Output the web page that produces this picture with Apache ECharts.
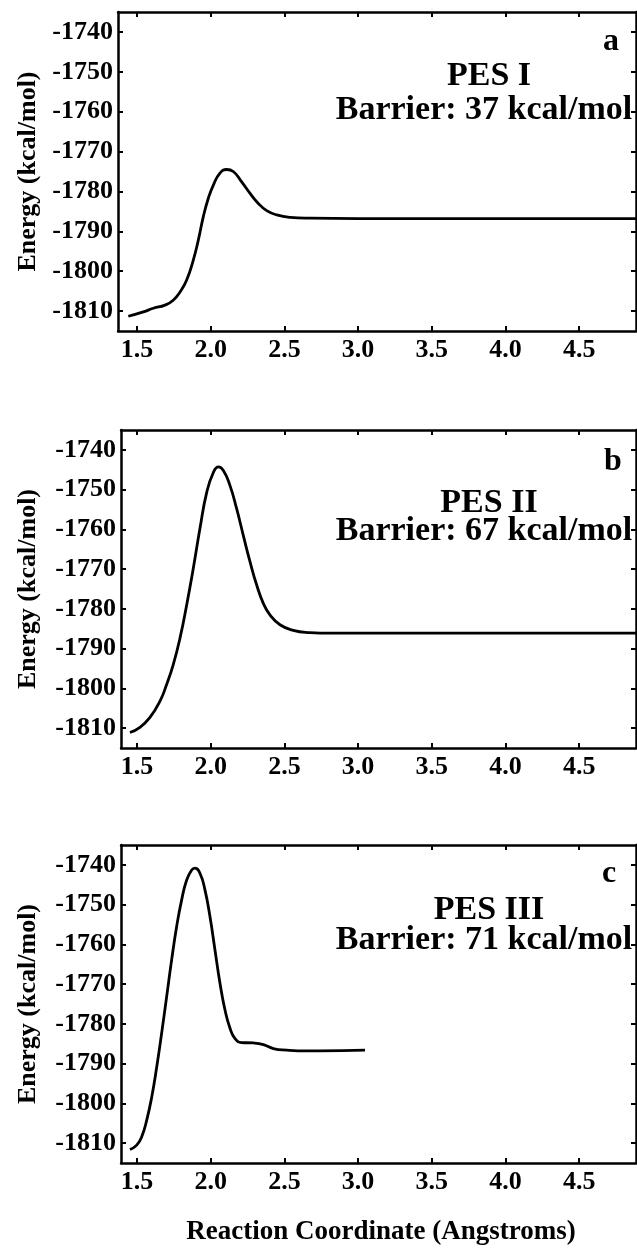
<!DOCTYPE html>
<html>
<head>
<meta charset="utf-8">
<script src="https://cdn.jsdelivr.net/npm/echarts@6/dist/echarts.min.js"></script>
<style>
html,body{margin:0;padding:0;background:#fff;}
#chart{width:637px;height:1251px;}
</style>
</head>
<body>
<div id="chart"></div>
<script>
// ---- data ----
const xTickValues = [1.5, 2.0, 2.5, 3.0, 3.5, 4.0, 4.5];
const yTickValues = [-1810, -1800, -1790, -1780, -1770, -1760, -1750, -1740];
const panelLetters = ['a', 'b', 'c'];
const panelNames = ['PES I', 'PES II', 'PES III'];
const barrierTexts = ['Barrier: 37 kcal/mol', 'Barrier: 67 kcal/mol', 'Barrier: 71 kcal/mol'];
const yAxisTitle = 'Energy (kcal/mol)';
const xAxisTitle = 'Reaction Coordinate (Angstroms)';

const pesI = [
  [1.441,-1811.3],[1.543,-1810.2],[1.611,-1809.3],[1.690,-1808.5],[1.746,-1807.3],
  [1.792,-1805.2],[1.837,-1802.2],[1.882,-1797.2],[1.916,-1792.2],[1.950,-1786.3],
  [1.984,-1781.7],[2.018,-1778.4],[2.063,-1775.4],[2.108,-1774.5],[2.153,-1775.0],
  [2.210,-1777.6],[2.267,-1780.5],[2.323,-1783.0],[2.380,-1784.8],[2.448,-1785.9],
  [2.538,-1786.5],[2.674,-1786.7],[3.000,-1786.8],[3.500,-1786.8],[4.000,-1786.8],
  [4.500,-1786.8],[4.890,-1786.8]
];
const pesII = [
  [1.452,-1811.1],[1.520,-1809.8],[1.588,-1807.3],[1.656,-1803.2],[1.701,-1799.0],
  [1.746,-1794.0],[1.792,-1787.3],[1.837,-1779.0],[1.882,-1769.8],[1.927,-1759.8],
  [1.973,-1750.7],[2.018,-1745.7],[2.052,-1744.3],[2.086,-1745.2],[2.131,-1749.0],
  [2.176,-1754.8],[2.221,-1761.5],[2.267,-1768.2],[2.312,-1774.0],[2.357,-1778.6],
  [2.402,-1781.5],[2.470,-1784.0],[2.560,-1785.4],[2.674,-1786.0],[2.742,-1786.1],
  [3.000,-1786.1],[3.500,-1786.1],[4.000,-1786.1],[4.500,-1786.1],[4.890,-1786.1]
];
const pesIII = [
  [1.452,-1811.6],[1.498,-1810.5],[1.532,-1808.4],[1.566,-1804.2],[1.600,-1798.4],
  [1.634,-1790.8],[1.667,-1782.4],[1.701,-1773.2],[1.735,-1763.9],[1.769,-1755.5],
  [1.803,-1748.8],[1.837,-1743.8],[1.871,-1741.3],[1.893,-1740.8],[1.927,-1742.1],
  [1.961,-1746.3],[1.995,-1753.0],[2.029,-1761.4],[2.063,-1769.8],[2.097,-1776.5],
  [2.131,-1781.1],[2.165,-1783.7],[2.210,-1784.7],[2.289,-1784.8],[2.357,-1785.2],
  [2.425,-1786.2],[2.516,-1786.6],[2.651,-1786.8],[2.742,-1786.8],[3.047,-1786.6]
];
const seriesData = [pesI, pesII, pesIII];

// ---- layout / style ----
const FONT = '"Liberation Serif", "Times New Roman", serif';
const panelTops = [12, 430, 845];
const panelHeights = [319, 318, 318];
const panelLefts = [118, 121, 121];
const plotRight = 636;
const xPxPerUnit = 147.4, x15px = 137;

const grids = [], xAxes = [], yAxes = [], series = [], graphics = [];
for (let i = 0; i < 3; i++) {
  const left = panelLefts[i];
  grids.push({left: left, top: panelTops[i], width: plotRight - left, height: panelHeights[i],
    show: false, containLabel: false});
  const xmin = 1.5 - (x15px - left) / xPxPerUnit;
  const xmax = 1.5 + (plotRight - x15px) / xPxPerUnit;
  const axLine = {show: true, onZero: false, lineStyle: {color: '#000', width: 2.5}};
  const tick = (vals) => ({show: true, inside: true, length: 5, lineStyle: {color: '#000', width: 2}, customValues: vals});
  xAxes.push({type: 'value', gridIndex: i, position: 'bottom', min: xmin, max: xmax,
    axisLine: axLine, axisTick: tick(xTickValues), splitLine: {show: false},
    axisLabel: {show: true, customValues: xTickValues, margin: 6,
      formatter: v => v.toFixed(1), color: '#000', fontFamily: FONT, fontWeight: 'bold', fontSize: 26}});
  xAxes.push({type: 'value', gridIndex: i, position: 'top', min: xmin, max: xmax,
    axisLine: axLine, axisTick: tick(xTickValues), splitLine: {show: false},
    axisLabel: {show: false}});
  yAxes.push({type: 'value', gridIndex: i, position: 'left', min: -1815, max: -1735,
    axisLine: axLine, axisTick: tick(yTickValues), splitLine: {show: false},
    axisLabel: {show: true, customValues: yTickValues, margin: 5,
      formatter: v => String(v), color: '#000', fontFamily: FONT, fontWeight: 'bold', fontSize: 26}});
  yAxes.push({type: 'value', gridIndex: i, position: 'right', min: -1815, max: -1735,
    axisLine: axLine, axisTick: tick(yTickValues), splitLine: {show: false},
    axisLabel: {show: false}});
  series.push({type: 'line', xAxisIndex: 2 * i, yAxisIndex: 2 * i, data: seriesData[i],
    showSymbol: false, smooth: 0.5, clip: true,
    lineStyle: {color: '#000', width: 2.8}});
}

const textStyle = (size) => ({fill: '#000', font: 'bold ' + size + 'px ' + FONT});
function txt(t, x, baseline, size, align) {
  graphics.push({type: 'text', x: x, y: baseline - 0.34 * size,
    style: Object.assign(textStyle(size), {text: t, align: align || 'center', verticalAlign: 'middle'})});
}
const letterPos = [[611, 53], [613, 473], [609, 885]];
const pesBase = [88, 515, 922];
const barBase = [122, 543, 952];
for (let i = 0; i < 3; i++) {
  txt(panelLetters[i], letterPos[i][0], letterPos[i][1], 32);
  txt(panelNames[i], 489, pesBase[i], 34);
  txt(barrierTexts[i], 484, barBase[i], 34);
  const cy = panelTops[i] + panelHeights[i] / 2;
  graphics.push({type: 'text', x: 28, y: cy, rotation: Math.PI / 2,
    style: Object.assign(textStyle(26), {text: yAxisTitle, align: 'center', verticalAlign: 'middle'})});
}
txt(xAxisTitle, 381, 1241, 27);

const chart = echarts.init(document.getElementById('chart'), null, {renderer: 'canvas'});
chart.setOption({
  backgroundColor: '#fff',
  animation: false,
  grid: grids, xAxis: xAxes, yAxis: yAxes, series: series,
  graphic: graphics
});
</script>
</body>
</html>
